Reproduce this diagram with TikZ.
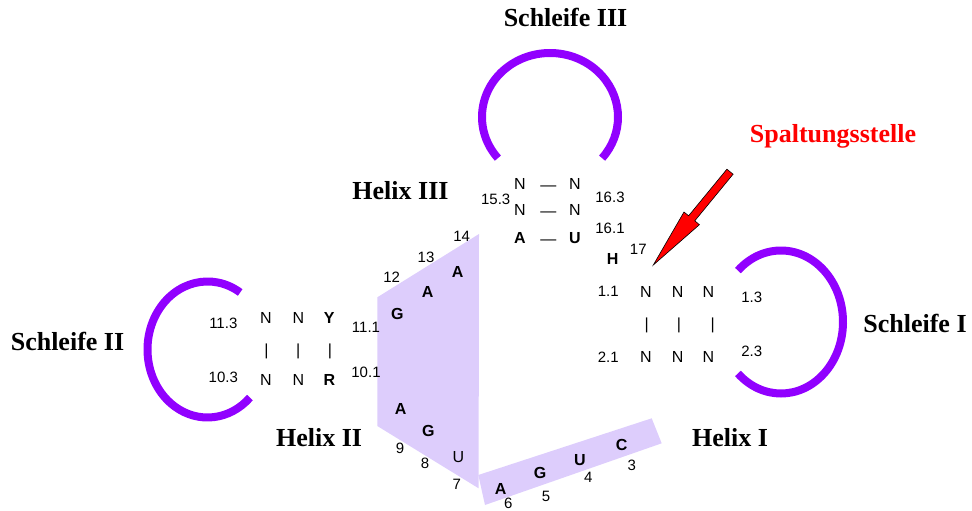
\documentclass[tikz,border=0pt]{standalone}
\usepackage{fontspec}
\setmainfont{Liberation Serif}
\newfontfamily\arialfont{Liberation Sans}
\definecolor{loopc}{RGB}{145,0,255}
\definecolor{bandc}{RGB}{221,205,252}
\begin{document}
\begin{tikzpicture}[x=1pt,y=1pt,
  lbl/.style={font=\fontsize{26}{28}\selectfont\bfseries, inner sep=0, anchor=base},
  nt/.style={font=\arialfont\fontsize{16}{18}\selectfont, inner sep=0, text height=11.5pt, text depth=0pt},
  ntb/.style={font=\arialfont\fontsize{16}{18}\selectfont\bfseries, inner sep=0, text height=11.5pt, text depth=0pt},
  num/.style={font=\arialfont\fontsize{15}{17}\selectfont, inner sep=0, text height=10.7pt, text depth=0pt},
  loopline/.style={draw=loopc, line width=8pt},
  bandfill/.style={fill=bandc, draw=none}]
\useasboundingbox (0,0) rectangle (972,-511);

% lavender backgrounds
\fill[bandfill] (479,-234) -- (377.3,-297.3) -- (377.3,-426) -- (478.6,-488.3) -- cycle;
\fill[bandfill] (478.3,-475) -- (651.7,-418.3) -- (661.7,-443.3) -- (485,-505) -- cycle;

% loops
\draw[loopline] (550,-117) ++(220:68 and 64) arc[start angle=220, end angle=-40, x radius=68, y radius=64];
\draw[loopline] (207.5,-349.5) ++(57:60 and 68) arc[start angle=57, end angle=315, x radius=60, y radius=68];
\draw[loopline] (781,-322) ++(134:62 and 71.5) arc[start angle=134, end angle=-134, x radius=62, y radius=71.5];

% labels
\node[lbl] (s3) at (565.5,-27) {Schleife III};
\node[lbl] (h3) at (400.5,-199.5) {Helix III};
\node[lbl] (s2) at (67.5,-350) {Schleife II};
\node[lbl] (h2) at (319,-446) {Helix II};
\node[lbl] (h1) at (730,-446) {Helix I};
\node[lbl] (s1) at (915,-332) {Schleife I};
\node[lbl, text=red] (sp) at (833,-142.7) {Spaltungsstelle};

% Helix III
\node[nt] (n153) at (520,-183.3) {N};
\node[nt] (d1) at (548.3,-184.5) {—};
\node[nt] (n163) at (575,-183.3) {N};
\node[nt] (n152) at (520,-210) {N};
\node[nt] (d2) at (548.3,-211.2) {—};
\node[nt] (n162) at (575,-210) {N};
\node[ntb] (a151) at (520,-238) {A};
\node[nt] (d3) at (548.3,-239.2) {—};
\node[ntb] (u161) at (575,-238) {U};
\node[num] (l153) at (495.7,-199.3) {15.3};
\node[num] (l163) at (610,-196.7) {16.3};
\node[num] (l161) at (610,-227.7) {16.1};
\node[ntb] (h17) at (612.7,-258.3) {H};
\node[num] (l17) at (638.3,-249.3) {17};

% upper strand of Helix II region
\node[num] (l14) at (461.7,-236) {14};
\node[num] (l13) at (426,-256.7) {13};
\node[num] (l12) at (391.7,-277.3) {12};
\node[ntb] (a14) at (457.7,-271.7) {A};
\node[ntb] (a13) at (427.7,-291.7) {A};
\node[ntb] (g12) at (397.3,-313.3) {G};
\node[num] (l111) at (366,-327.3) {11.1};
\node[num] (l101) at (366,-371.7) {10.1};

% Helix II
\node[ntb] (y111) at (329.3,-317.7) {Y};
\node[nt] (n112) at (298.3,-317.7) {N};
\node[nt] (n113) at (266,-317.7) {N};
\node[nt] (b21) at (330,-350) {|};
\node[nt] (b22) at (298.3,-350) {|};
\node[nt] (b23) at (266.5,-350) {|};
\node[ntb] (r101) at (329.3,-380) {R};
\node[nt] (n102) at (298.3,-380) {N};
\node[nt] (n103) at (266,-380) {N};
\node[num] (l113) at (223.3,-323.3) {11.3};
\node[num] (l103) at (223.3,-377.3) {10.3};

% lower strand of Helix II region
\node[ntb] (a9) at (400.7,-408.3) {A};
\node[ntb] (g8) at (428.3,-430.7) {G};
\node[nt] (u7) at (458.3,-456.7) {U};
\node[num] (l9) at (400,-447.7) {9};
\node[num] (l8) at (425,-463.3) {8};
\node[num] (l7) at (456.7,-484.3) {7};

% band
\node[ntb] (a6) at (500.7,-488.3) {A};
\node[num] (l6) at (508.3,-503.3) {6};
\node[ntb] (g5) at (540,-472.7) {G};
\node[num] (l5) at (546,-495.7) {5};
\node[ntb] (u4) at (580,-459.3) {U};
\node[num] (l4) at (588.3,-477.3) {4};
\node[ntb] (c3) at (621.7,-445) {C};
\node[num] (l3) at (631.7,-465) {3};

% Helix I
\node[num] (l11) at (608.3,-290.7) {1.1};
\node[nt] (n11) at (646,-291.7) {N};
\node[nt] (n12) at (677.7,-291.7) {N};
\node[nt] (n13) at (708.3,-291.7) {N};
\node[nt] (b11) at (646.7,-323.3) {|};
\node[nt] (b12) at (679,-323.3) {|};
\node[nt] (b13) at (712.7,-323.3) {|};
\node[num] (l21) at (608.3,-357.3) {2.1};
\node[nt] (n21) at (646,-356.7) {N};
\node[nt] (n22) at (677.7,-356.7) {N};
\node[nt] (n23) at (708.3,-356.7) {N};
\node[num] (l13b) at (751.7,-296.7) {1.3};
\node[num] (l23) at (751.7,-350.7) {2.3};

% cleavage arrow
\coordinate (t1) at (733.1,-174.2);
\coordinate (t2) at (726.9,-169.2);
\coordinate (bb1) at (694.8,-220.8);
\coordinate (bb2) at (688.6,-215.8);
\coordinate (w1) at (699.4,-224.7);
\coordinate (w2) at (684.0,-212.0);
\coordinate (tip) at (653.3,-265);
\filldraw[fill=red, draw=black, line width=0.6pt, line join=miter]
  (t1) -- (bb1) -- (w1) -- (tip) -- (w2) -- (bb2) -- (t2) -- cycle;
\end{tikzpicture}
\end{document}
